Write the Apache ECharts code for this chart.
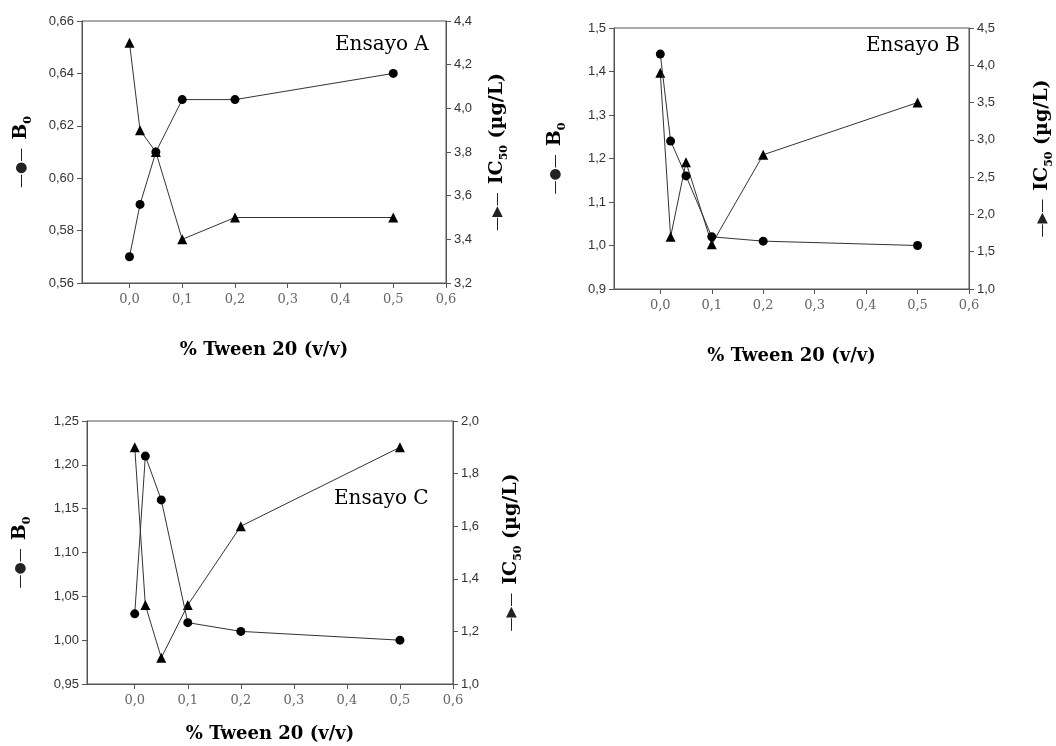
<!DOCTYPE html>
<html>
<head>
<meta charset="utf-8">
<script src="https://cdn.jsdelivr.net/npm/echarts@6/dist/echarts.min.js"></script>
<style>
html, body { margin: 0; padding: 0; background: #fff; }
#main { width: 1056px; height: 746px; }
</style>
</head>
<body>
<div id="main"></div>
<script>
// % Tween 20 concentrations (shared by the three assays)
const tween = [0, 0.02, 0.05, 0.1, 0.2, 0.5];
const xTicks = [0, 0.1, 0.2, 0.3, 0.4, 0.5, 0.6];

// Ensayo A
const b0A = [0.57, 0.59, 0.61, 0.63, 0.63, 0.64];
const ic50A = [4.3, 3.9, 3.8, 3.4, 3.5, 3.5];
// Ensayo B
const b0B = [1.44, 1.24, 1.16, 1.02, 1.01, 1.00];
const ic50B = [3.9, 1.7, 2.7, 1.6, 2.8, 3.5];
// Ensayo C
const b0C = [1.03, 1.21, 1.16, 1.02, 1.01, 1.00];
const ic50C = [1.9, 1.3, 1.1, 1.3, 1.6, 1.9];

const panels = [
  { name: 'Ensayo A', b0: b0A, ic: ic50A, grid: { left: 82, top: 21, width: 364, height: 262 },
    yl: [0.56, 0.66, 0.02, 2], yr: [3.2, 4.4, 0.2, 1], xGap: 58, lGap: 48, rGap: 38 },
  { name: 'Ensayo B', b0: b0B, ic: ic50B, grid: { left: 614, top: 28, width: 357, height: 261 },
    yl: [0.9, 1.5, 0.1, 1], yr: [1.0, 4.5, 0.5, 1], xGap: 58, lGap: 46, rGap: 60 },
  { name: 'Ensayo C', b0: b0C, ic: ic50C, grid: { left: 87, top: 421, width: 366, height: 263 },
    yl: [0.95, 1.25, 0.05, 2], yr: [1.0, 2.0, 0.2, 1], xGap: 41, lGap: 54, rGap: 45 }
];

const axisColor = '#555';
const comma = d => v => v.toFixed(d).replace('.', ',');

const grids = [], xAxes = [], yAxes = [], series = [], texts = [];

const nameRich = {
  m: { fontFamily: 'DejaVu Sans', fontSize: 14, color: '#222', padding: [0, 8, 0, 0] },
  b: { fontFamily: 'DejaVu Serif', fontWeight: 'bold', fontSize: 19, color: '#000', lineHeight: 26, verticalAlign: 'middle' },
  s: { fontFamily: 'DejaVu Serif', fontWeight: 'bold', fontSize: 11, color: '#000', lineHeight: 12, verticalAlign: 'bottom' }
};

panels.forEach((p, i) => {
  grids.push(Object.assign({ show: true, borderColor: axisColor, borderWidth: 1, backgroundColor: 'transparent' }, p.grid));
  xAxes.push({
    type: 'value', gridIndex: i, min: -0.09, max: 0.6,
    name: '% Tween 20 (v/v)', nameLocation: 'middle', nameGap: p.xGap,
    nameTextStyle: { fontFamily: 'DejaVu Serif', fontWeight: 'bold', fontSize: 18, color: '#000' },
    axisLine: { onZero: false, lineStyle: { color: axisColor } },
    axisTick: { inside: false, length: 5, lineStyle: { color: axisColor }, customValues: xTicks },
    axisLabel: { customValues: xTicks, formatter: comma(1), fontFamily: 'DejaVu Serif', fontSize: 13, color: '#666', margin: 10 },
    splitLine: { show: false }
  });
  yAxes.push({
    type: 'value', gridIndex: i, position: 'left',
    min: p.yl[0], max: p.yl[1], interval: p.yl[2],
    name: '{m|—●—}{b|B}{s|0}', nameLocation: 'middle', nameRotate: 90, nameGap: p.lGap,
    nameTextStyle: { rich: nameRich },
    axisLine: { show: true, onZero: false, lineStyle: { color: axisColor } },
    axisTick: { show: true, length: 5, lineStyle: { color: axisColor } },
    axisLabel: { formatter: comma(p.yl[3]), fontFamily: 'Liberation Sans', fontSize: 13, color: '#333', margin: 8 },
    splitLine: { show: false }
  });
  yAxes.push({
    type: 'value', gridIndex: i, position: 'right',
    min: p.yr[0], max: p.yr[1], interval: p.yr[2],
    name: '{m|—▶—}{b|IC}{s|50}{b| (µg/L)}', nameLocation: 'middle', nameRotate: 90, nameGap: p.rGap,
    nameTextStyle: { rich: nameRich },
    axisLine: { show: true, onZero: false, lineStyle: { color: axisColor } },
    axisTick: { show: true, length: 5, lineStyle: { color: axisColor } },
    axisLabel: { formatter: comma(p.yr[3]), fontFamily: 'Liberation Sans', fontSize: 13, color: '#333', margin: 8 },
    splitLine: { show: false }
  });
  series.push({
    type: 'line', xAxisIndex: i, yAxisIndex: 2 * i,
    data: tween.map((x, k) => [x, p.b0[k]]),
    symbol: 'circle', symbolSize: 9,
    lineStyle: { color: '#333', width: 1 }, itemStyle: { color: '#000' }, z: 3
  });
  series.push({
    type: 'line', xAxisIndex: i, yAxisIndex: 2 * i + 1,
    data: tween.map((x, k) => [x, p.ic[k]]),
    symbol: 'triangle', symbolSize: 10,
    lineStyle: { color: '#333', width: 1 }, itemStyle: { color: '#000' }, z: 2
  });
});

texts.push(
  { type: 'text', left: 335, top: 35, style: { text: 'Ensayo A', font: '20px "DejaVu Serif"', fill: '#000' } },
  { type: 'text', left: 866, top: 36, style: { text: 'Ensayo B', font: '20px "DejaVu Serif"', fill: '#000' } },
  { type: 'text', left: 334, top: 489, style: { text: 'Ensayo C', font: '20px "DejaVu Serif"', fill: '#000' } }
);

const chart = echarts.init(document.getElementById('main'));
chart.setOption({
  animation: false,
  backgroundColor: '#fff',
  grid: grids,
  xAxis: xAxes,
  yAxis: yAxes,
  series: series,
  graphic: texts
});
</script>
</body>
</html>
